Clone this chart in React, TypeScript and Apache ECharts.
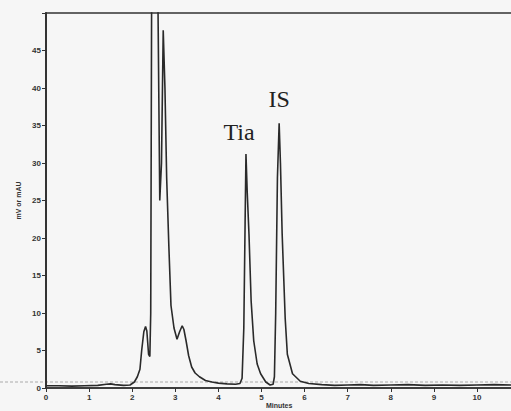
import React, { useEffect, useRef } from "react";
import * as echarts from "echarts";

// retention time (min)
const times = [
  0, 0.3, 0.6, 0.9, 1.2, 1.4, 1.5, 1.6, 1.8, 1.95, 2.05, 2.12, 2.18, 2.22, 2.27, 2.31, 2.34, 2.38, 2.41,
  2.43, 2.45, 2.47, 2.58, 2.6, 2.64, 2.68, 2.72, 2.76, 2.8, 2.85, 2.9, 2.97, 3.04, 3.1, 3.16, 3.2, 3.25,
  3.31, 3.38, 3.46, 3.56, 3.7, 3.85, 4.0, 4.2, 4.4, 4.5, 4.55, 4.59, 4.62, 4.64, 4.67, 4.71, 4.76, 4.82,
  4.9, 4.98, 5.1, 5.2, 5.27, 5.3, 5.33, 5.37, 5.41, 5.44, 5.48, 5.55, 5.6, 5.72, 5.9, 6.1, 6.4, 6.7, 7.0,
  7.3, 7.6, 8.0, 8.4, 8.8, 9.2, 9.6, 10.0, 10.4, 10.8, 11.0,
];
// detector signal (mAU)
const signal = [
  0.3, 0.3, 0.25, 0.3, 0.35, 0.5, 0.55, 0.45, 0.35, 0.4, 0.8, 1.5, 2.5, 5, 7.5, 8.2, 7.6, 4.5, 4.2,
  10, 50, 70, 70, 50, 25, 30, 47.7, 40, 28, 19, 11, 8, 6.5, 7.5, 8.3, 7.8, 6.3,
  4.3, 2.8, 2.0, 1.5, 1.0, 0.8, 0.65, 0.55, 0.5, 0.6, 1.3, 8, 22, 31.2, 26, 20.5, 11.6, 6.3,
  3.2, 1.9, 0.8, 0.4, 0.5, 1.5, 10, 28, 35.3, 30, 20.5, 9.3, 4.5, 1.9, 0.9, 0.6, 0.45, 0.35, 0.4,
  0.45, 0.35, 0.4, 0.45, 0.35, 0.4, 0.35, 0.4, 0.45, 0.4, 0.4,
];
const yTicks = [0, 5, 10, 15, 20, 25, 30, 35, 40, 45];
const xTicks = [0, 1, 2, 3, 4, 5, 6, 7, 8, 9, 10];
const peakLabels = ["Tia", "IS"];
const peakLabelPos = [
  [4.48, 34.2],
  [5.41, 38.5],
];

export default function App() {
  const ref = useRef<HTMLDivElement>(null);
  useEffect(() => {
    if (!ref.current) return;
    const chart = echarts.init(ref.current, undefined, { renderer: "svg" });
    const data = times.map((t, i) => [t, signal[i]]);
    const labelStyle = {
      fontSize: 8,
      fontWeight: "bold",
      color: "#333",
      fontFamily: "Liberation Sans",
    };
    const scanLine = {
      type: "line",
      shape: { x1: 0, y1: 382, x2: 511, y2: 382 },
      style: { stroke: "#aaa", lineWidth: 1, lineDash: [3, 2] },
      z: 0,
    };
    const lastTick = xTicks[xTicks.length - 1];
    chart.setOption({
      animation: false,
      backgroundColor: "#f6f6f6",
      grid: {
        left: 46,
        top: 13,
        width: 466.3,
        height: 375,
        outerBoundsMode: "none",
        containLabel: false,
        show: true,
        borderColor: "#333",
        borderWidth: 1.5,
        backgroundColor: "transparent",
      },
      xAxis: {
        type: "value",
        min: 0,
        max: 10.82,
        name: "Minutes",
        nameLocation: "middle",
        nameGap: 14,
        nameMoveOverlap: false,
        nameTextStyle: { fontSize: 7, fontWeight: "bold", color: "#333", fontFamily: "Liberation Sans" },
        axisLine: { show: true, lineStyle: { color: "#333", width: 1.5 } },
        axisTick: { show: true, length: 4, customValues: xTicks, lineStyle: { color: "#333" } },
        axisLabel: {
          ...labelStyle,
          margin: 5,
          customValues: xTicks.slice(0, -1),
          hideOverlap: false,
          formatter: (v: number) => String(Math.round(v)),
        },
        splitLine: { show: false },
      },
      yAxis: {
        type: "value",
        min: 0,
        max: 50,
        interval: 5,
        name: "mV or mAU",
        nameLocation: "middle",
        nameGap: 24,
        nameRotate: 90,
        nameMoveOverlap: false,
        nameTextStyle: { fontSize: 7, fontWeight: "bold", color: "#333", fontFamily: "Liberation Sans" },
        axisLine: { show: true, lineStyle: { color: "#333", width: 2 } },
        axisTick: { show: true, length: 4, lineStyle: { color: "#333" } },
        axisLabel: {
          ...labelStyle,
          margin: 5,
          formatter: (v: number) => (yTicks.includes(v) ? String(v) : ""),
        },
        splitLine: { show: false },
      },
      graphic: [scanLine],
      series: [
        {
          type: "line",
          data,
          showSymbol: false,
          clip: true,
          lineStyle: { color: "#2a2a2a", width: 1.6 },
          markPoint: {
            symbol: "circle",
            symbolSize: 0,
            label: {
              show: true,
              position: "inside",
              fontFamily: "Liberation Serif",
              fontSize: 24,
              color: "#222",
              formatter: (p: any) => p.name,
            },
            data: peakLabels.map((name, i) => ({ name, coord: peakLabelPos[i] })),
          },
        },
      ],
    });
    // last x tick label placed at the axis' own pixel position for that value
    const pt = chart.convertToPixel({ seriesIndex: 0 }, [lastTick, 0]) as number[] | undefined;
    if (pt && isFinite(pt[0]) && isFinite(pt[1])) {
      chart.setOption({
        graphic: [
          scanLine,
          {
            type: "text",
            x: pt[0],
            y: pt[1] + 5,
            z: 10,
            style: {
              text: String(lastTick),
              fontSize: 8,
              fontWeight: "bold",
              fontFamily: "Liberation Sans",
              fill: "#333",
              align: "center",
              verticalAlign: "top",
            },
          },
        ],
      });
    }
    return () => chart.dispose();
  }, []);
  return (
    <div
      ref={ref}
      style={{ position: "absolute", left: 0, top: 0, width: 511, height: 411 }}
    />
  );
}
